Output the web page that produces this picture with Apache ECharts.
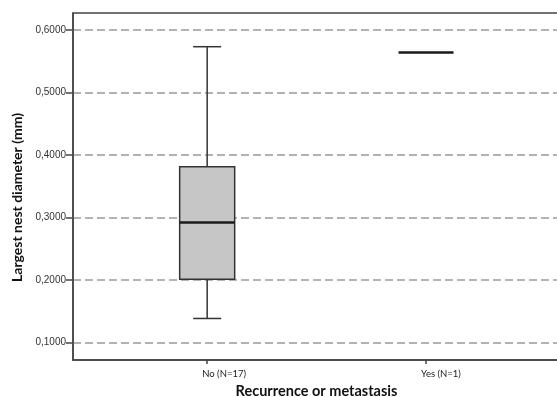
<!DOCTYPE html>
<html>
<head>
<meta charset="utf-8">
<script src="https://cdn.jsdelivr.net/npm/echarts@6/dist/echarts.min.js"></script>
<style>html,body{margin:0;padding:0;background:#fff}#c{width:557px;height:397px}</style>
</head>
<body>
<div id="c"></div>
<script>
// Data
const categories = ['No (N=17)', 'Yes (N=1)'];
const positions = [1, 2];
// [lowerWhisker, Q1, median, Q3, upperWhisker]
const boxStats = [
  [0.1387, 0.2016, 0.2923, 0.3813, 0.5733],
  [0.564, 0.564, 0.564, 0.564, 0.564]
];
const yTicks = [0.1, 0.2, 0.3, 0.4, 0.5, 0.6];

const seriesData = positions.map((p, i) => [p].concat(boxStats[i]));

const chart = echarts.init(document.getElementById('c'), null, {renderer: 'canvas'});
chart.setOption({
  animation: false,
  backgroundColor: '#ffffff',
  grid: {left: 73, right: -3, top: 13, bottom: 37, containLabel: false, outerBoundsMode: 'none',
    show: true, borderColor: '#444', borderWidth: 1.5, backgroundColor: 'transparent'},
  xAxis: {
    type: 'value', min: 0.387, max: 2.612,
    name: 'Recurrence or metastasis', nameLocation: 'middle', nameGap: 21,
    nameTextStyle: {fontFamily: 'Lato', fontWeight: 'bold', fontSize: 14.5, color: '#111'},
    axisLine: {show: true, lineStyle: {color: '#444', width: 1.5}},
    axisTick: {show: true, customValues: positions, length: 4, lineStyle: {color: '#444', width: 1.5}},
    axisLabel: {show: true, customValues: positions, fontFamily: 'Lato', fontSize: 9.5, color: '#222', margin: 9,
      align: 'left', padding: [0, 0, 0, -5],
      formatter: v => categories[positions.indexOf(Math.round(v))] || ''},
    splitLine: {show: false}
  },
  yAxis: {
    type: 'value', min: 0.0723, max: 0.6272,
    name: 'Largest nest diameter (mm)', nameLocation: 'middle', nameGap: 47, nameRotate: 90,
    nameTextStyle: {fontFamily: 'Lato', fontWeight: 'bold', fontSize: 14, color: '#111', padding: [0, 22, 0, 0]},
    axisLine: {show: true, lineStyle: {color: '#444', width: 1.5}},
    axisTick: {show: true, customValues: yTicks, length: 7, lineStyle: {color: '#444', width: 1.5}},
    axisLabel: {show: true, customValues: yTicks, fontFamily: 'Liberation Sans', fontSize: 10, color: '#333', margin: 7,
      formatter: v => v.toFixed(4).replace('.', ',')},
    splitLine: {show: true, lineStyle: {color: '#9a9a9a', width: 1.5, type: [8, 4]}}
  },
  series: [{
    type: 'custom',
    data: seriesData,
    encode: {x: 0, y: [1, 2, 3, 4, 5]},
    clip: false,
    renderItem: function (params, api) {
      const x = api.value(0);
      const lo = api.coord([x, api.value(1)]);
      const q1 = api.coord([x, api.value(2)]);
      const med = api.coord([x, api.value(3)]);
      const q3 = api.coord([x, api.value(4)]);
      const hi = api.coord([x, api.value(5)]);
      const half = 27.5, capHalf = 14;
      const cx = q1[0];
      const stroke = {stroke: '#333', lineWidth: 1.5, fill: null};
      const children = [];
      if (hi[1] < q3[1]) {
        children.push({type: 'line', shape: {x1: cx, y1: hi[1], x2: cx, y2: q3[1]}, style: stroke});
        children.push({type: 'line', shape: {x1: cx - capHalf, y1: hi[1], x2: cx + capHalf, y2: hi[1]}, style: stroke});
      }
      if (lo[1] > q1[1]) {
        children.push({type: 'line', shape: {x1: cx, y1: q1[1], x2: cx, y2: lo[1]}, style: stroke});
        children.push({type: 'line', shape: {x1: cx - capHalf, y1: lo[1], x2: cx + capHalf, y2: lo[1]}, style: stroke});
      }
      if (q1[1] - q3[1] > 0.5) {
        children.push({type: 'rect', shape: {x: cx - half, y: q3[1], width: 2 * half, height: q1[1] - q3[1]},
          style: {fill: '#c6c6c6', stroke: '#333', lineWidth: 1.5}});
      }
      children.push({type: 'line', shape: {x1: cx - half, y1: med[1], x2: cx + half, y2: med[1]},
        style: {stroke: '#1a1a1a', lineWidth: 2.5}});
      return {type: 'group', children: children};
    }
  }]
});
</script>
</body>
</html>
